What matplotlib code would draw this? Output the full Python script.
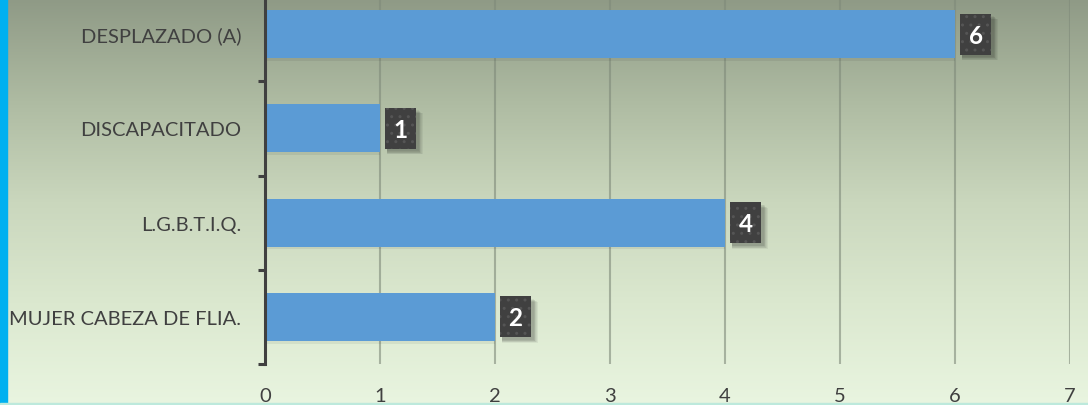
import numpy as np
import matplotlib
matplotlib.use("Agg")
import matplotlib.pyplot as plt
import matplotlib.patheffects as pe
from matplotlib.transforms import IdentityTransform
from matplotlib.colors import LinearSegmentedColormap

# ---- data ----
categories = ["MUJER CABEZA DE FLIA.", "L.G.B.T.I.Q.", "DISCAPACITADO", "DESPLAZADO (A)"]
values = [2, 4, 1, 6]
x_ticks = [0, 1, 2, 3, 4, 5, 6, 7]

plt.rcParams['font.family'] = ['Lato', 'DejaVu Sans']

W, H = 1088, 406
fig = plt.figure(figsize=(W / 100, H / 100), dpi=100)

# background gradient
bg = fig.add_axes([0, 0, 1, 1], zorder=-10)
cmap = LinearSegmentedColormap.from_list(
    "bg", [(0.0, "#8F9A86"), (0.25, "#AEBBA2"), (0.5, "#CAD7BD"),
           (0.75, "#DBE8CF"), (1.0, "#E9F5E0")])
grad = np.linspace(0, 1, 256).reshape(-1, 1)
bg.imshow(grad, aspect="auto", cmap=cmap, extent=[0, 1, 1, 0])
bg.set_xlim(0, 1)
bg.set_ylim(1, 0)
bg.axis("off")
# left accent strip and bottom thin line
bg.add_patch(plt.Rectangle((0, 0), 7 / W, 1, color="#00B0F0", transform=bg.transAxes))
bg.add_patch(plt.Rectangle((0, 0), 1, 2 / H, color="#BDE9DC", transform=bg.transAxes))

left = 265 / W
width = 805 / W
bottom = 41 / H
height = 377 / H
ax = fig.add_axes([left, bottom, width, height])
ax.patch.set_alpha(0)

y = np.arange(len(categories))
bars = ax.barh(y, values, height=0.51, color="#5B9BD5", zorder=3)
for b in bars:
    b.set_path_effects([pe.withSimplePatchShadow(offset=(0, -2), shadow_rgbFace="black", alpha=0.06), pe.Normal()])

ax.set_xlim(0, 7)
ax.set_ylim(-0.5, len(categories) - 0.5)
ax.set_xticks(x_ticks)
ax.set_xticklabels([str(t) for t in x_ticks], fontsize=14.5, color="#404040")
ax.tick_params(axis="x", length=0, pad=16.5)

ax.set_yticks(y)
ax.set_yticklabels(categories, fontsize=14.5, color="#404040")
ax.set_yticks(np.arange(-0.5, len(categories), 1.0), minor=True)
ax.tick_params(axis="y", which="major", length=0, pad=17)
ax.tick_params(axis="y", which="minor", length=5, width=2.2, color="#404040", direction="out")

ax.grid(axis="x", color="#7F8A7A", alpha=0.6, linewidth=1.5, zorder=1)
ax.set_axisbelow(True)

for s in ["top", "right", "bottom"]:
    ax.spines[s].set_visible(False)
ax.spines["left"].set_color("#404040")
ax.spines["left"].set_linewidth(2.2)
ax.spines["left"].set_zorder(5)

# data labels: dark boxes with soft shadow
BOX_W, BOX_H, GAP = 31, 41, 5
ident = IdentityTransform()
for yi, v in zip(y, values):
    px, py = ax.transData.transform((v, yi))
    x0 = px + GAP
    y0 = py - BOX_H / 2
    for k in range(1, 7):
        ax.add_patch(plt.Rectangle((x0 + 2, y0 - 2 - k * 0.6), BOX_W + k * 0.8, BOX_H,
                                   facecolor="black", edgecolor="none", alpha=0.05,
                                   transform=ident, zorder=5, clip_on=False))
    ax.add_patch(plt.Rectangle((x0, y0), BOX_W, BOX_H, facecolor="#404040",
                               edgecolor="#555555", linewidth=0, hatch="..",
                               transform=ident, zorder=6, clip_on=False))
    ax.annotate(str(v), xy=(v, yi), xytext=(GAP + BOX_W / 2, -8.5),
                textcoords="offset pixels", ha="center", va="baseline",
                fontsize=17.5, fontweight="bold", color="white", zorder=7)

fig.savefig("out.png", dpi=100)
